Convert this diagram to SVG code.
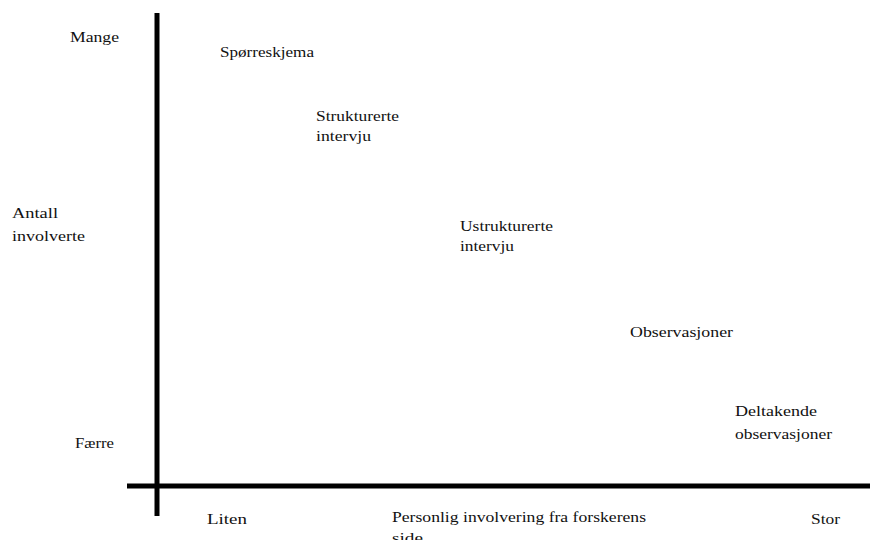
<svg xmlns="http://www.w3.org/2000/svg" width="870" height="540" viewBox="0 0 870 540">
<style>
.t{font-family:"Liberation Serif","Times New Roman",serif;font-size:15.5px;fill:#111}
.ax{stroke:#000;stroke-width:5;fill:none}
</style>
<rect width="870" height="540" fill="#fff"/>
<g id="connectors">
<line class="ax" x1="157" y1="13" x2="157" y2="516"/>
<line class="ax" x1="127" y1="486" x2="870" y2="486"/>
</g>
<g id="mange"><text class="t" x="70" y="42" textLength="49" lengthAdjust="spacingAndGlyphs">Mange</text></g>
<g id="faerre"><text class="t" x="75" y="448" textLength="39" lengthAdjust="spacingAndGlyphs">Færre</text></g>
<g id="antall"><text class="t" x="12" y="218" textLength="46" lengthAdjust="spacingAndGlyphs">Antall</text><text class="t" x="12" y="241" textLength="73" lengthAdjust="spacingAndGlyphs">involverte</text></g>
<g id="sporreskjema"><text class="t" x="220" y="57" textLength="94" lengthAdjust="spacingAndGlyphs">Spørreskjema</text></g>
<g id="strukturerte"><text class="t" x="316" y="121" textLength="83" lengthAdjust="spacingAndGlyphs">Strukturerte</text><text class="t" x="316" y="141" textLength="55" lengthAdjust="spacingAndGlyphs">intervju</text></g>
<g id="ustrukturerte"><text class="t" x="460" y="231" textLength="93" lengthAdjust="spacingAndGlyphs">Ustrukturerte</text><text class="t" x="460" y="251" textLength="54" lengthAdjust="spacingAndGlyphs">intervju</text></g>
<g id="observasjoner"><text class="t" x="630" y="337" textLength="103" lengthAdjust="spacingAndGlyphs">Observasjoner</text></g>
<g id="deltakende"><text class="t" x="735" y="416" textLength="82" lengthAdjust="spacingAndGlyphs">Deltakende</text><text class="t" x="735" y="439" textLength="97" lengthAdjust="spacingAndGlyphs">observasjoner</text></g>
<g id="liten"><text class="t" x="207" y="524" textLength="40" lengthAdjust="spacingAndGlyphs">Liten</text></g>
<g id="personlig"><text class="t" x="392" y="522" textLength="254" lengthAdjust="spacingAndGlyphs">Personlig involvering fra forskerens</text><text class="t" x="392" y="543" textLength="31" lengthAdjust="spacingAndGlyphs">side</text></g>
<g id="stor"><text class="t" x="811" y="524" textLength="29" lengthAdjust="spacingAndGlyphs">Stor</text></g>
</svg>
